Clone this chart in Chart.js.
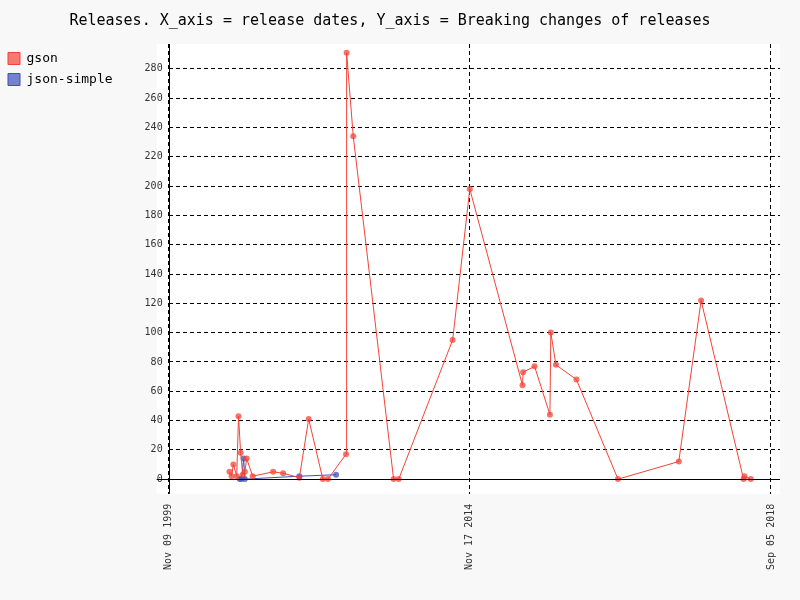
<!DOCTYPE html>
<html>
<head>
<meta charset="utf-8">
<script src="https://cdn.jsdelivr.net/npm/chart.js@4"></script>
<style>
  html, body { margin: 0; background: #f8f8f8; }
  #wrap { width: 800px; height: 600px; }
</style>
</head>
<body>
<div id="wrap"><canvas id="chart"></canvas></div>
<script>
// x positions on the release-date axis (0 = Nov 09 1999, 1 = Nov 17 2014, 2 = Sep 05 2018)
const gsonX = [0.202, 0.209, 0.215, 0.226, 0.232, 0.239, 0.246, 0.253, 0.259, 0.279, 0.347, 0.380, 0.434, 0.465, 0.512, 0.529, 0.589, 0.591, 0.613, 0.747, 0.764, 0.943, 1.0, 1.175, 1.177, 1.215, 1.266, 1.269, 1.286, 1.354, 1.492, 1.694, 1.768, 1.909, 1.912, 1.933];
const gsonY = [5, 2, 10, 2, 43, 18, 3, 5, 14, 2, 5, 4, 1, 41, 0, 0, 17, 291, 234, 0, 0, 95, 198, 64, 73, 77, 44, 100, 78, 68, 0, 12, 122, 0, 2, 0];
const simpleX = [0.236, 0.242, 0.249, 0.253, 0.434, 0.556];
const simpleY = [0, 0, 14, 0, 2, 3];
const tickLabels = ['Nov 09 1999', 'Nov 17 2014', 'Sep 05 2018'];

const pts = (xs, ys) => xs.map((x, i) => ({ x: x, y: ys[i] }));
const mono = 'DejaVu Sans Mono';

const axisLines = {
  id: 'axisLines',
  afterDatasetsDraw(chart) {
    const { ctx, chartArea, scales } = chart;
    ctx.save();
    ctx.strokeStyle = '#000';
    ctx.lineWidth = 1;
    const y0 = Math.round(scales.y.getPixelForValue(0)) + 0.5;
    const x0 = Math.round(scales.x.getPixelForValue(0)) + 0.5;
    ctx.beginPath();
    ctx.moveTo(chartArea.left - 12, y0); ctx.lineTo(chartArea.right, y0);
    ctx.moveTo(x0, chartArea.top); ctx.lineTo(x0, chartArea.bottom);
    ctx.stroke();
    ctx.restore();
  }
};

const plotBg = {
  id: 'plotBg',
  beforeDraw(chart) {
    const { ctx, chartArea } = chart;
    ctx.save();
    ctx.fillStyle = '#fff';
    ctx.fillRect(chartArea.left - 12, chartArea.top, chartArea.width + 12, chartArea.height);
    ctx.restore();
  }
};

new Chart(document.getElementById('chart'), {
  type: 'line',
  data: {
    datasets: [
      { label: 'gson', data: pts(gsonX, gsonY), borderColor: '#f44336', backgroundColor: 'rgba(244,67,54,0.7)',
        pointBackgroundColor: 'rgba(244,67,54,0.75)', borderWidth: 1, pointRadius: 3, pointBorderWidth: 0 },
      { label: 'json-simple', data: pts(simpleX, simpleY), borderColor: '#3f51b5', backgroundColor: 'rgba(63,81,181,0.7)',
        pointBackgroundColor: 'rgba(63,81,181,0.75)', borderWidth: 1, pointRadius: 3, pointBorderWidth: 0 }
    ]
  },
  options: {
    responsive: true,
    maintainAspectRatio: false,
    animation: false,
    layout: { padding: { top: 4, right: 20, bottom: 20 } },
    plugins: {
      title: { display: true, text: 'Releases. X_axis = release dates, Y_axis = Breaking changes of releases',
        font: { family: mono, size: 15, weight: 'normal' }, color: '#000', padding: { top: 8, bottom: 14 } },
      legend: { position: 'left', align: 'start', fullSize: false,
        labels: { font: { family: mono, size: 13 }, color: '#333', boxWidth: 12, boxHeight: 12, padding: 8,
          generateLabels(chart) {
            return chart.data.datasets.map((d, i) => ({ text: d.label, fillStyle: d.backgroundColor,
              strokeStyle: d.borderColor, lineWidth: 1, datasetIndex: i }));
          } } },
      tooltip: { enabled: false }
    },
    scales: {
      x: {
        type: 'linear', min: 0, max: 2.03,
        afterBuildTicks(s) { s.ticks = [0, 1, 2].map(v => ({ value: v })); },
        ticks: { callback: v => tickLabels[v], minRotation: 90, maxRotation: 90, padding: 10,
          font: { family: mono, size: 10 }, color: '#333' },
        grid: { color: '#000', lineWidth: 1, drawTicks: false },
        border: { display: false, dash: [4, 3] }
      },
      y: {
        min: -10, max: 297,
        afterBuildTicks(s) { s.ticks = []; for (let v = 0; v <= 280; v += 20) s.ticks.push({ value: v }); },
        afterFit(s) { s.width += 16; },
        ticks: { font: { family: mono, size: 10 }, color: '#333', padding: 6 },
        grid: { color: '#000', lineWidth: 1, drawTicks: false },
        border: { display: false, dash: [4, 3] }
      }
    }
  },
  plugins: [plotBg, axisLines]
});
</script>
</body>
</html>
